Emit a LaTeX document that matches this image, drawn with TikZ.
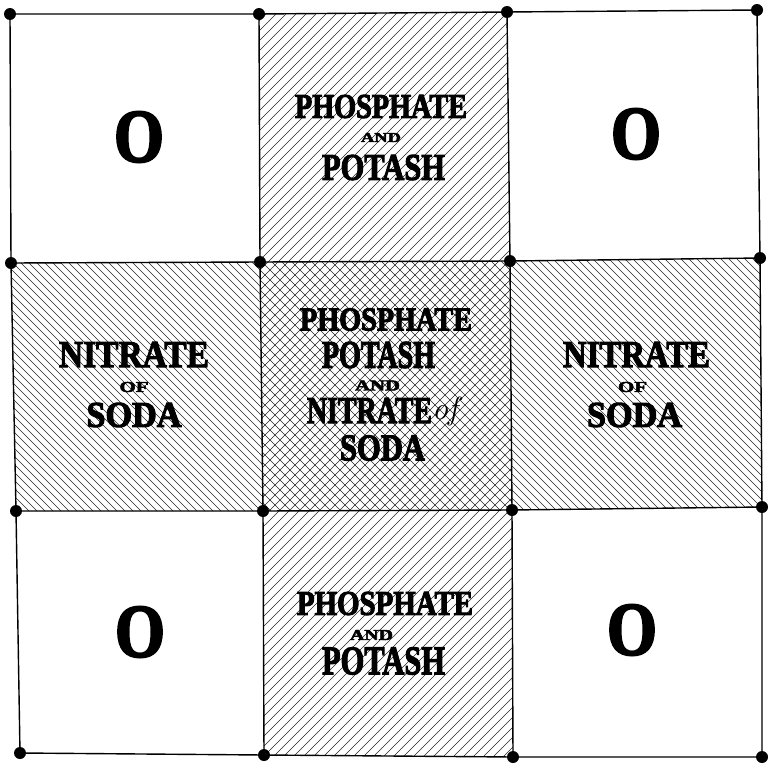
\documentclass[tikz,border=0pt]{standalone}
\usepackage{graphicx}
\usepackage{fontspec}
\newfontfamily\heavy{Liberation Serif}[UprightFont={* Bold},FakeBold=3]
\newcommand{\rsz}[3]{\resizebox{#1pt}{#2pt}{\heavy #3}}
\begin{document}
\begin{tikzpicture}[x=1pt,y=-1pt,
  gridline/.style={line width=1.4pt,line join=round},
  hatch/.style={line width=0.5pt,black!85},
  dot/.style={circle,fill=black,inner sep=0pt,minimum size=12pt},
  lbl/.style={inner sep=0pt,outer sep=0pt}]
\useasboundingbox (0,0) rectangle (774,763);
\fill[white] (0,0) rectangle (774,763);
% grid points
\coordinate (p00) at (10,14);  \coordinate (p01) at (259,14);  \coordinate (p02) at (507,12);  \coordinate (p03) at (757,10);
\coordinate (p10) at (11,263); \coordinate (p11) at (260,262); \coordinate (p12) at (510,261); \coordinate (p13) at (760,258);
\coordinate (p20) at (16,511); \coordinate (p21) at (263,511); \coordinate (p22) at (512,510); \coordinate (p23) at (762,507);
\coordinate (p30) at (20,753); \coordinate (p31) at (264,755); \coordinate (p32) at (513,757); \coordinate (p33) at (762,757);
% hatching: top middle
\begin{scope}
\clip (p01) -- (p02) -- (p12) -- (p11) -- cycle;
\foreach \x in {-20,-10,...,520} \draw[hatch] (\x,270) -- (\x+270,0);
\end{scope}
% bottom middle
\begin{scope}
\clip (p21) -- (p22) -- (p32) -- (p31) -- cycle;
\foreach \x in {-20,-10,...,530} \draw[hatch] (\x,770) -- (\x+270,500);
\end{scope}
% left middle
\begin{scope}
\clip (p10) -- (p11) -- (p21) -- (p20) -- cycle;
\foreach \x in {-280,-272,...,280} \draw[hatch] (\x,250) -- (\x+270,520);
\end{scope}
% right middle
\begin{scope}
\clip (p12) -- (p13) -- (p23) -- (p22) -- cycle;
\foreach \x in {224,232,...,780} \draw[hatch] (\x,250) -- (\x+270,520);
\end{scope}
% centre cross hatch
\begin{scope}
\clip (p11) -- (p12) -- (p22) -- (p21) -- cycle;
\foreach \x in {-20,-10,...,530} {
  \draw[hatch] (\x,520) -- (\x+270,250);
  \draw[hatch] (\x,250) -- (\x+270,520);
}
\end{scope}
% grid lines
\foreach \r in {0,1,2,3} \draw[gridline] (p\r0) -- (p\r1) -- (p\r2) -- (p\r3);
\foreach \c in {0,1,2,3} \draw[gridline] (p0\c) -- (p1\c) -- (p2\c) -- (p3\c);
% dots
\foreach \r in {0,1,2,3} \foreach \c in {0,1,2,3} \node[dot] (d\r\c) at (p\r\c) {};
% zero cells
\node[lbl] (o1) at (139,137) {\rsz{50}{50}{O}};
\node[lbl] (o2) at (636,134) {\rsz{50}{50}{O}};
\node[lbl] (o3) at (140,632) {\rsz{50}{50}{O}};
\node[lbl] (o4) at (632,630) {\rsz{50}{50}{O}};
% top middle
\node[lbl] (t1) at (381,106.5) {\rsz{172}{23}{PHOSPHATE}};
\node[lbl] (t2) at (381,137.5) {\rsz{40}{9}{AND}};
\node[lbl] (t3) at (383.5,167.5) {\rsz{123}{25}{POTASH}};
% bottom middle
\node[lbl] (b1) at (385,603.5) {\rsz{176}{23}{PHOSPHATE}};
\node[lbl] (b2) at (371.5,635) {\rsz{43}{10}{AND}};
\node[lbl] (b3) at (383.5,661) {\rsz{123}{27}{POTASH}};
% left middle
\node[lbl] (l1) at (134,354.5) {\rsz{150}{25}{NITRATE}};
\node[lbl] (l2) at (134,387) {\rsz{29}{10}{OF}};
\node[lbl] (l3) at (134,415) {\rsz{95}{24}{SODA}};
% right middle
\node[lbl] (r1) at (636.5,354.5) {\rsz{147}{25}{NITRATE}};
\node[lbl] (r2) at (632.5,387) {\rsz{29}{10}{OF}};
\node[lbl] (r3) at (634.5,415) {\rsz{95}{24}{SODA}};
% centre
\node[lbl] (c1) at (386,319.5) {\rsz{172}{22}{PHOSPHATE}};
\node[lbl] (c2) at (378.5,355) {\rsz{113}{26}{POTASH}};
\node[lbl] (c3) at (377.5,385.5) {\rsz{45}{10}{AND}};
\node[lbl] (c4) at (369.5,410.5) {\rsz{125}{25}{NITRATE}};
\node[lbl,anchor=west] (c5) at (432,411) {\fontsize{32}{32}\selectfont\itshape of};
\node[lbl] (c6) at (382.5,448) {\rsz{85}{25}{SODA}};
\end{tikzpicture}
\end{document}
